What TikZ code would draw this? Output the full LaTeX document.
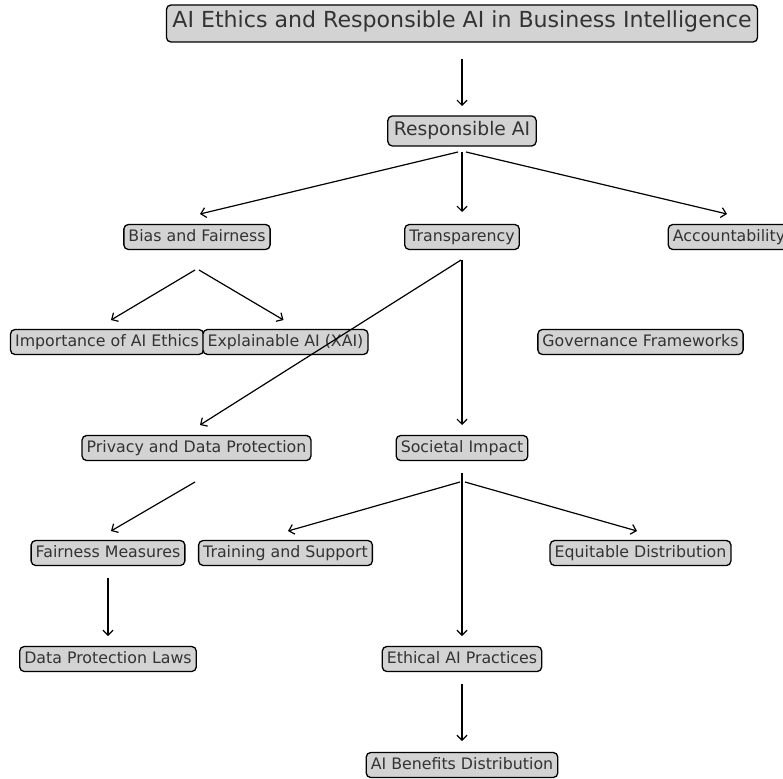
\documentclass[tikz,border=0pt]{standalone}
\usepackage{fontspec}
\setmainfont{DejaVu Sans}
\usetikzlibrary{arrows.meta,calc}
\definecolor{boxgray}{HTML}{D3D3D3}
\definecolor{textgray}{HTML}{333333}
\tikzset{
  box/.style={draw=black, fill=boxgray, rounded corners=4.5pt, line width=1.3pt,
    text=textgray, font=\fontsize{15.8}{18}\selectfont, inner xsep=4.6pt, inner ysep=0pt,
    minimum height=25pt, text height=0.92em, text depth=0.08em},
  titlebox/.style={box, font=\fontsize{22.1}{26}\selectfont, inner xsep=6pt, minimum height=37pt},
  rabox/.style={box, font=\fontsize{18.7}{22}\selectfont, inner xsep=6pt, minimum height=30pt},
  edge/.style={draw=black, line width=1.2pt, -{Straight Barb[length=5pt,width=10pt,line width=1.2pt]}},
}
\begin{document}
\begin{tikzpicture}[x=1pt,y=-1pt]
\useasboundingbox (0,0) rectangle (783,778);
\clip (0,0) rectangle (783,778);
\node[titlebox] (title) at (462,23.5) {AI Ethics and Responsible AI in Business Intelligence};
\node[rabox] (rai) at (462,131) {Responsible AI};
\node[box] (bias) at (197,237) {Bias and Fairness};
\node[box] (trans) at (462,237) {Transparency};
\node[box] (acc) at (729,237) {Accountability};
\node[box] (imp) at (107,342) {Importance of AI Ethics};
\node[box] (expl) at (285.5,342) {Explainable AI (XAI)};
\node[box] (gov) at (640.5,342) {Governance Frameworks};
\node[box] (priv) at (196.5,448) {Privacy and Data Protection};
\node[box] (soc) at (462,448) {Societal Impact};
\node[box] (fm) at (108,553) {Fairness Measures};
\node[box] (train) at (285.5,553) {Training and Support};
\node[box] (eq) at (640.5,553) {Equitable Distribution};
\node[box] (dpl) at (108,659) {Data Protection Laws};
\node[box] (eth) at (462,659) {Ethical AI Practices};
\node[box] (ben) at (462,765) {AI Benefits Distribution};

\draw[edge] ($(title.center)+(0,36)$) -- ($(rai.center)+(0,-25)$);
\draw[edge] ($(rai.center)+(-4,21)$) -- ($(bias.center)+(3,-23)$);
\draw[edge] ($(rai.center)+(0,21)$) -- ($(trans.center)+(0,-25)$);
\draw[edge] ($(rai.center)+(4,21)$) -- ($(acc.center)+(-2,-23)$);
\draw[edge] ($(bias.center)+(-2,33)$) -- ($(imp.center)+(4,-22)$);
\draw[edge] ($(bias.center)+(2,33)$) -- ($(expl.center)+(-2,-22)$);
\draw[edge] ($(trans.center)+(-1,23)$) -- ($(priv.center)+(3.5,-23)$);
\draw[edge] ($(trans.center)+(0,23)$) -- ($(soc.center)+(0,-23)$);
\draw[edge] ($(priv.center)+(-1.5,34)$) -- ($(fm.center)+(3,-22)$);
\draw[edge] ($(soc.center)+(-2,34)$) -- ($(train.center)+(2.5,-22)$);
\draw[edge] ($(soc.center)+(3,34)$) -- ($(eq.center)+(-3.5,-22)$);
\draw[edge] ($(soc.center)+(0,25)$) -- ($(eth.center)+(0,-23)$);
\draw[edge] ($(fm.center)+(0,25)$) -- ($(dpl.center)+(0,-23)$);
\draw[edge] ($(eth.center)+(0,25)$) -- ($(ben.center)+(0,-24)$);
\end{tikzpicture}
\end{document}
